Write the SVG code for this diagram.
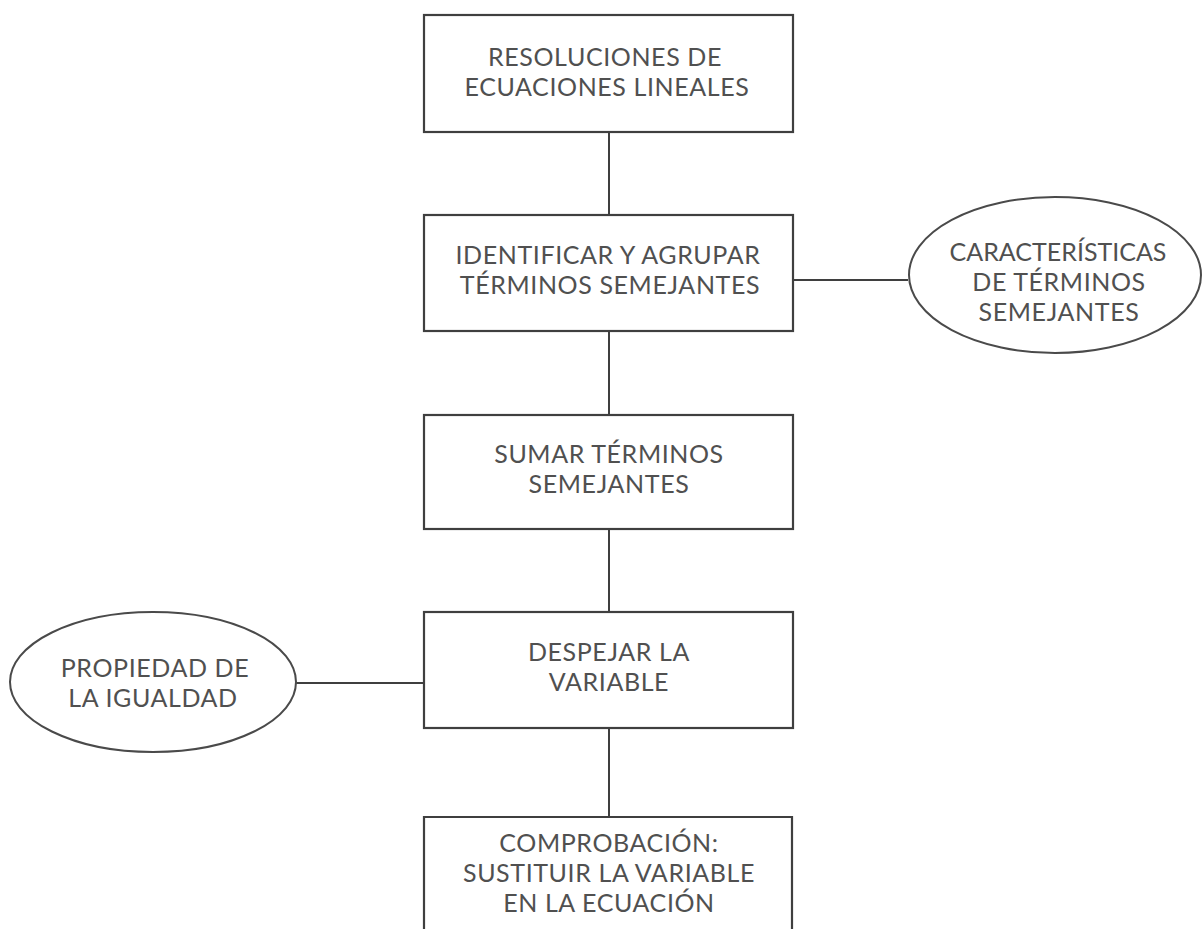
<svg xmlns="http://www.w3.org/2000/svg" width="1203" height="929" viewBox="0 0 1203 929">
  <style>
    .box { fill: none; stroke: #3f3f3f; stroke-width: 2.2; }
    .oval { fill: none; stroke: #4a4a4a; stroke-width: 2; }
    .link { fill: none; stroke: #3f3f3f; stroke-width: 2; }
    .lbl { font-family: Lato, "Open Sans", "Liberation Sans", sans-serif; font-size: 25px; letter-spacing: 0.6px; fill: #505050; text-anchor: middle; }
    .tight { letter-spacing: 0px; }
  </style>
  <rect width="1203" height="929" fill="#ffffff"/>

  <!-- connectors -->
  <g id="connectors">
    <line class="link" x1="609" y1="132" x2="609" y2="215"/>
    <line class="link" x1="609" y1="331" x2="609" y2="415"/>
    <line class="link" x1="609" y1="529" x2="609" y2="612"/>
    <line class="link" x1="609" y1="728" x2="609" y2="817"/>
    <line class="link" x1="793" y1="280" x2="908" y2="280"/>
    <line class="link" x1="296" y1="683" x2="424" y2="683"/>
  </g>

  <g id="n-resoluciones">
    <rect class="box" x="424" y="15" width="369" height="117"/>
    <text class="lbl" x="605" y="66">RESOLUCIONES DE</text>
    <text class="lbl" x="607" y="96">ECUACIONES LINEALES</text>
  </g>

  <g id="n-identificar">
    <rect class="box" x="424" y="215" width="369" height="116"/>
    <text class="lbl" x="608" y="264">IDENTIFICAR Y AGRUPAR</text>
    <text class="lbl" x="610" y="294">TÉRMINOS SEMEJANTES</text>
  </g>

  <g id="n-caracteristicas">
    <ellipse class="oval" cx="1055" cy="275" rx="146" ry="78"/>
    <text class="lbl tight" x="1058" y="261">CARACTERÍSTICAS</text>
    <text class="lbl" x="1059" y="291">DE TÉRMINOS</text>
    <text class="lbl" x="1059" y="321">SEMEJANTES</text>
  </g>

  <g id="n-sumar">
    <rect class="box" x="424" y="415" width="369" height="114"/>
    <text class="lbl" x="609" y="463">SUMAR TÉRMINOS</text>
    <text class="lbl" x="609" y="493">SEMEJANTES</text>
  </g>

  <g id="n-despejar">
    <rect class="box" x="424" y="612" width="369" height="116"/>
    <text class="lbl" x="609" y="661">DESPEJAR LA</text>
    <text class="lbl" x="609" y="691">VARIABLE</text>
  </g>

  <g id="n-propiedad">
    <ellipse class="oval" cx="153" cy="682" rx="143" ry="70"/>
    <text class="lbl" x="155" y="677">PROPIEDAD DE</text>
    <text class="lbl" x="153" y="707">LA IGUALDAD</text>
  </g>

  <g id="n-comprobacion">
    <path class="box" d="M424 935 V817 H792 V935"/>
    <text class="lbl" x="609" y="852">COMPROBACIÓN:</text>
    <text class="lbl" x="609" y="882">SUSTITUIR LA VARIABLE</text>
    <text class="lbl" x="609" y="912">EN LA ECUACIÓN</text>
  </g>
</svg>
